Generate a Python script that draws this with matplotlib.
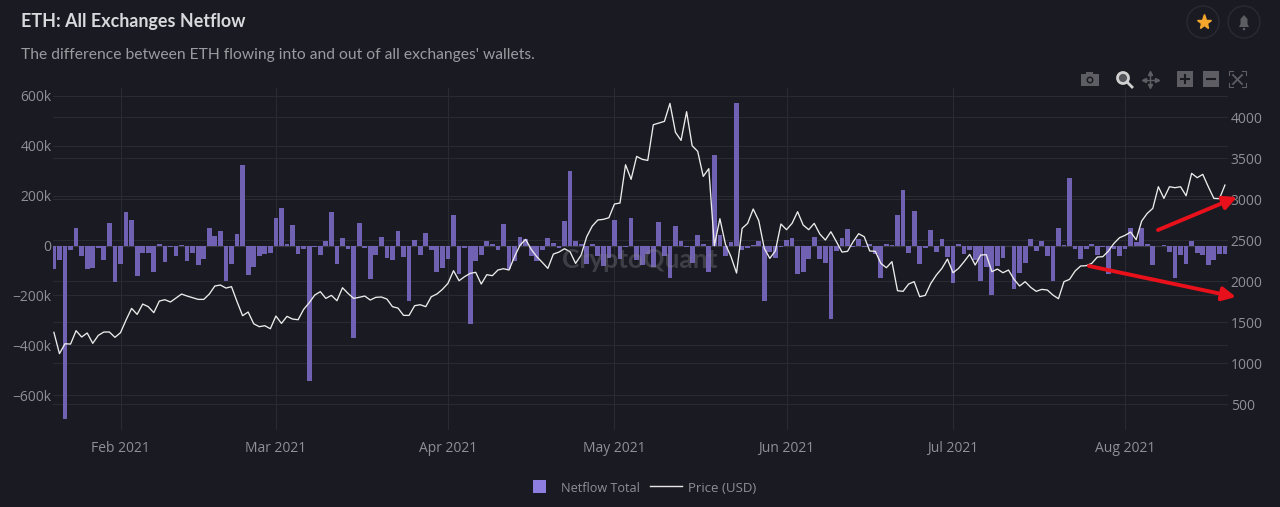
import pandas as pd
import matplotlib
matplotlib.use('Agg')
import matplotlib.pyplot as plt
from matplotlib.patches import Rectangle, Circle, FancyArrowPatch, Polygon

BG = '#1a1a22'
GRID = '#2a2a32'
TICK = '#8f8f96'
BAR = '#7161b2'

dates = pd.date_range('2021-01-20', periods=212)

netflow = [
    -94, -59, -695, -19, 71, -40, -96, -92, -9, -60, 90, -147, -75, 134, 104, -122, -30, -30, -108, 7,
    -65, -5, -41, 4, -64, -31, -79, -55, 71, 40, 60, -142, -76, 47, 322, -119, -86, -43, -33, -29,
    110, 151, 5, 82, -33, -12, -543, -5, -39, 20, 136, -76, 32, -12, -372, 92, -8, -136, -39, 36,
    -48, -60, 60, -45, -223, 23, -39, 52, -16, -105, -92, -56, 123, -116, -9, -315, -64, -39, 19, 5,
    -16, 86, -96, -61, 35, 25, -41, -63, -19, 29, 9, -8, 100, 300, 17, 8, -76, 8, -43, -83,
    -48, 104, -56, -5, 112, -59, -80, -35, -86, 95, -40, -131, 79, 20, -5, -70, 44, 5, -108, 362,
    44, -41, 16, 570, -17, -9, 4, 19, -223, -25, -49, -5, 21, 32, -116, -105, -52, 35, -56, -70,
    -294, -23, 29, 67, -5, 25, -5, 8, -32, -130, 7, 1, 122, 223, -28, 140, -74, -11, 61, -27,
    27, -45, -150, 5, -33, -19, -59, -144, -86, -197, -83, -49, -1, -175, -112, -70, 28, -21, 17, -40,
    -143, 72, 1, 269, -15, -55, -12, 5, -39, -4, -116, -12, -41, -15, 70, 15, 70, 5, -78, -1,
    4, -25, -132, -36, -75, 19, -29, -39, -80, -60, -32, -35,
]

price = [
    1374, 1114, 1235, 1231, 1394, 1317, 1366, 1240, 1337, 1378, 1378, 1313, 1370, 1524, 1666, 1593, 1719, 1687, 1614, 1756,
    1772, 1744, 1792, 1841, 1817, 1797, 1776, 1776, 1841, 1939, 1951, 1914, 1931, 1748, 1577, 1622, 1479, 1443, 1455, 1418,
    1573, 1483, 1569, 1536, 1528, 1654, 1735, 1829, 1870, 1788, 1825, 1760, 1918, 1849, 1788, 1801, 1817, 1768, 1801, 1805,
    1780, 1687, 1670, 1581, 1581, 1699, 1711, 1687, 1809, 1841, 1898, 1971, 2126, 2004, 2053, 2093, 2106, 1963, 2077, 2065,
    2134, 2150, 2134, 2297, 2439, 2508, 2386, 2297, 2227, 2154, 2329, 2353, 2394, 2357, 2215, 2317, 2540, 2670, 2744, 2752,
    2772, 2939, 2951, 3418, 3240, 3520, 3484, 3471, 3906, 3927, 3947, 4166, 3813, 3715, 4065, 3650, 3581, 3276, 3370, 2431,
    2760, 2447, 2297, 2097, 2642, 2703, 2878, 2736, 2398, 2276, 2370, 2695, 2626, 2703, 2845, 2683, 2626, 2703, 2573, 2500,
    2601, 2479, 2353, 2362, 2479, 2577, 2540, 2366, 2362, 2215, 2162, 2236, 1882, 1874, 1963, 1992, 1809, 1825, 1971, 2073,
    2154, 2268, 2101, 2154, 2236, 2325, 2195, 2317, 2321, 2114, 2146, 2101, 2134, 2020, 1939, 1992, 1923, 1874, 1898, 1890,
    1829, 1784, 1992, 2020, 2122, 2183, 2187, 2215, 2292, 2297, 2366, 2459, 2528, 2557, 2597, 2504, 2732, 2825, 2886, 3150,
    3008, 3150, 3138, 3150, 3040, 3313, 3260, 3301, 3150, 3008, 3004, 3170,
]

month_ticks = pd.to_datetime(['2021-02-01', '2021-03-01', '2021-04-01', '2021-05-01',
                              '2021-06-01', '2021-07-01', '2021-08-01'])
month_labels = ['Feb 2021', 'Mar 2021', 'Apr 2021', 'May 2021', 'Jun 2021', 'Jul 2021', 'Aug 2021']
left_ticks = [-600, -400, -200, 0, 200, 400, 600]
left_labels = ['\u2212600k', '\u2212400k', '\u2212200k', '0', '200k', '400k', '600k']
right_ticks = [500, 1000, 1500, 2000, 2500, 3000, 3500, 4000]

plt.rcParams['font.family'] = ['Open Sans', 'DejaVu Sans']

fig = plt.figure(figsize=(12.8, 5.07), dpi=100, facecolor=BG)

# plot area in pixels: x 53-1228, y 88-430
main_pos = [53 / 1280, (507 - 430) / 507, 1175 / 1280, 342 / 507]

# right axis sits lowest so that its grid stays behind the bars
ax_r = fig.add_axes(main_pos, facecolor=BG, zorder=1)
ax = fig.add_axes(main_pos, zorder=2)
ax.patch.set_visible(False)
ax_line = fig.add_axes(main_pos, zorder=3)
ax_line.patch.set_visible(False)

feb1 = pd.Timestamp('2021-02-01')
xlim = (feb1 + pd.Timedelta(days=(53 - 120.5) / 5.55), feb1 + pd.Timedelta(days=(1228 - 120.5) / 5.55))

ax.bar(dates, netflow, width=0.85, color=BAR, zorder=2)
ax.axhline(0, color='#383840', lw=0.9, zorder=1)
ax.set_xlim(xlim)
ax.set_ylim(-740, 632)
ax.set_yticks(left_ticks)
ax.set_yticklabels(left_labels)
ax.set_xticks(month_ticks)
ax.set_xticklabels(month_labels)
ax.tick_params(axis='both', length=0, colors=TICK, labelsize=10)
ax.tick_params(axis='y', pad=1)
ax.tick_params(axis='x', pad=8)
ax.grid(True, color=GRID, lw=0.8)
ax.set_axisbelow(True)

ax_r.set_xlim(xlim)
ax_r.set_ylim(183, 4354)
ax_r.yaxis.tick_right()
ax_r.set_yticks(right_ticks)
ax_r.set_yticklabels([str(t) for t in right_ticks])
ax_r.set_xticks([])
ax_r.tick_params(axis='y', length=0, colors=TICK, labelsize=10, pad=2)
ax_r.grid(True, axis='y', color=GRID, lw=0.8)

ax_line.plot(dates, price, color='#ececec', lw=0.95)
ax_line.set_xlim(xlim)
ax_line.set_ylim(183, 4354)
ax_line.axis('off')

for a in (ax, ax_r, ax_line):
    for spine in a.spines.values():
        spine.set_visible(False)

# overlay in pixel coordinates for header, legend, toolbar and hand drawn arrows
ov = fig.add_axes([0, 0, 1, 1], zorder=5)
ov.set_xlim(0, 1280)
ov.set_ylim(507, 0)
ov.axis('off')

ov.text(21, 21.5, 'ETH: All Exchanges Netflow', color='#d9d9dd', fontsize=12.9, fontweight='bold',
        family=['Lato', 'DejaVu Sans'], va='center')
ov.text(21, 55.5, "The difference between ETH flowing into and out of all exchanges' wallets.",
        color='#9a9aa1', fontsize=11.25, family=['Lato', 'DejaVu Sans'], va='center')
ov.text(640, 260, 'CryptoQuant', color='#8a8a92', alpha=0.33, fontsize=19, fontweight='bold',
        family=['Lato', 'DejaVu Sans'], ha='center', va='center')

# legend
ov.add_patch(Rectangle((533, 480), 13, 13, color='#8e7ee0', lw=0))
ov.text(561, 488.5, 'Netflow Total', color=TICK, fontsize=9.1, va='center')
ov.plot([650, 682], [486, 486], color='#e8e8e8', lw=1)
ov.text(688, 488.5, 'Price (USD)', color=TICK, fontsize=9.5, va='center')

# red arrows
for start, end in [((1158, 230), (1237, 197)), ((1089, 266), (1236, 297))]:
    ov.add_patch(FancyArrowPatch(start, end, arrowstyle='-|>', mutation_scale=20, lw=2.8,
                                 color='#e8101a', shrinkA=0, shrinkB=0))

# header buttons
ov.add_patch(Circle((1203, 22), 16, fc='none', ec='#2a2a32', lw=1))
ov.add_patch(Circle((1244, 22), 16, fc='none', ec='#2a2a32', lw=1))
ov.plot([1203.5], [22], marker='*', ms=11, color='#f6a72b', mec='#f6a72b')
ov.add_patch(Polygon([(1239, 27), (1240.5, 24), (1240.5, 19), (1244, 15), (1247.5, 19), (1247.5, 24), (1249, 27)],
                     color='#5c5c63', lw=0))
ov.add_patch(Circle((1244, 29), 1.3, color='#5c5c63', lw=0))

# toolbar icons
ICON = '#5d5d63'
ov.add_patch(Rectangle((1081, 74), 18, 12, color=ICON, lw=0))
ov.add_patch(Rectangle((1086, 72), 7, 3, color=ICON, lw=0))
ov.add_patch(Circle((1090, 80), 3.5, fc=BG, ec='none'))
ov.add_patch(Circle((1090, 80), 2, color=ICON, lw=0))
ov.add_patch(Circle((1123, 78), 5.5, fc='#55555c', ec='#d0d0d0', lw=2))
ov.plot([1127, 1132], [82, 87], color='#d0d0d0', lw=2)
ov.plot([1150, 1150], [73, 86], color=ICON, lw=1)
ov.plot([1144, 1157], [79.5, 79.5], color=ICON, lw=1)
for mx, my, mk in [(1150, 73, '^'), (1150, 86, 'v'), (1144, 79.5, '<'), (1157, 79.5, '>')]:
    ov.plot([mx], [my], marker=mk, ms=3, color=ICON)
ov.add_patch(Rectangle((1177, 71), 16, 16, color=ICON, lw=0))
ov.plot([1181, 1189], [79, 79], color=BG, lw=1.5)
ov.plot([1185, 1185], [75, 83], color=BG, lw=1.5)
ov.add_patch(Rectangle((1203, 71), 16, 16, color=ICON, lw=0))
ov.plot([1207, 1215], [79, 79], color=BG, lw=1.5)
ov.plot([1233, 1242], [75, 84], color=ICON, lw=1.3)
ov.plot([1242, 1233], [75, 84], color=ICON, lw=1.3)
for cx, cy, dx, dy in [(1229, 71, 1, 1), (1246, 71, -1, 1), (1229, 87, 1, -1), (1246, 87, -1, -1)]:
    ov.plot([cx + 4 * dx, cx, cx], [cy, cy, cy + 4 * dy], color=ICON, lw=0.8)

fig.savefig('out.png', dpi=100, facecolor=BG)
